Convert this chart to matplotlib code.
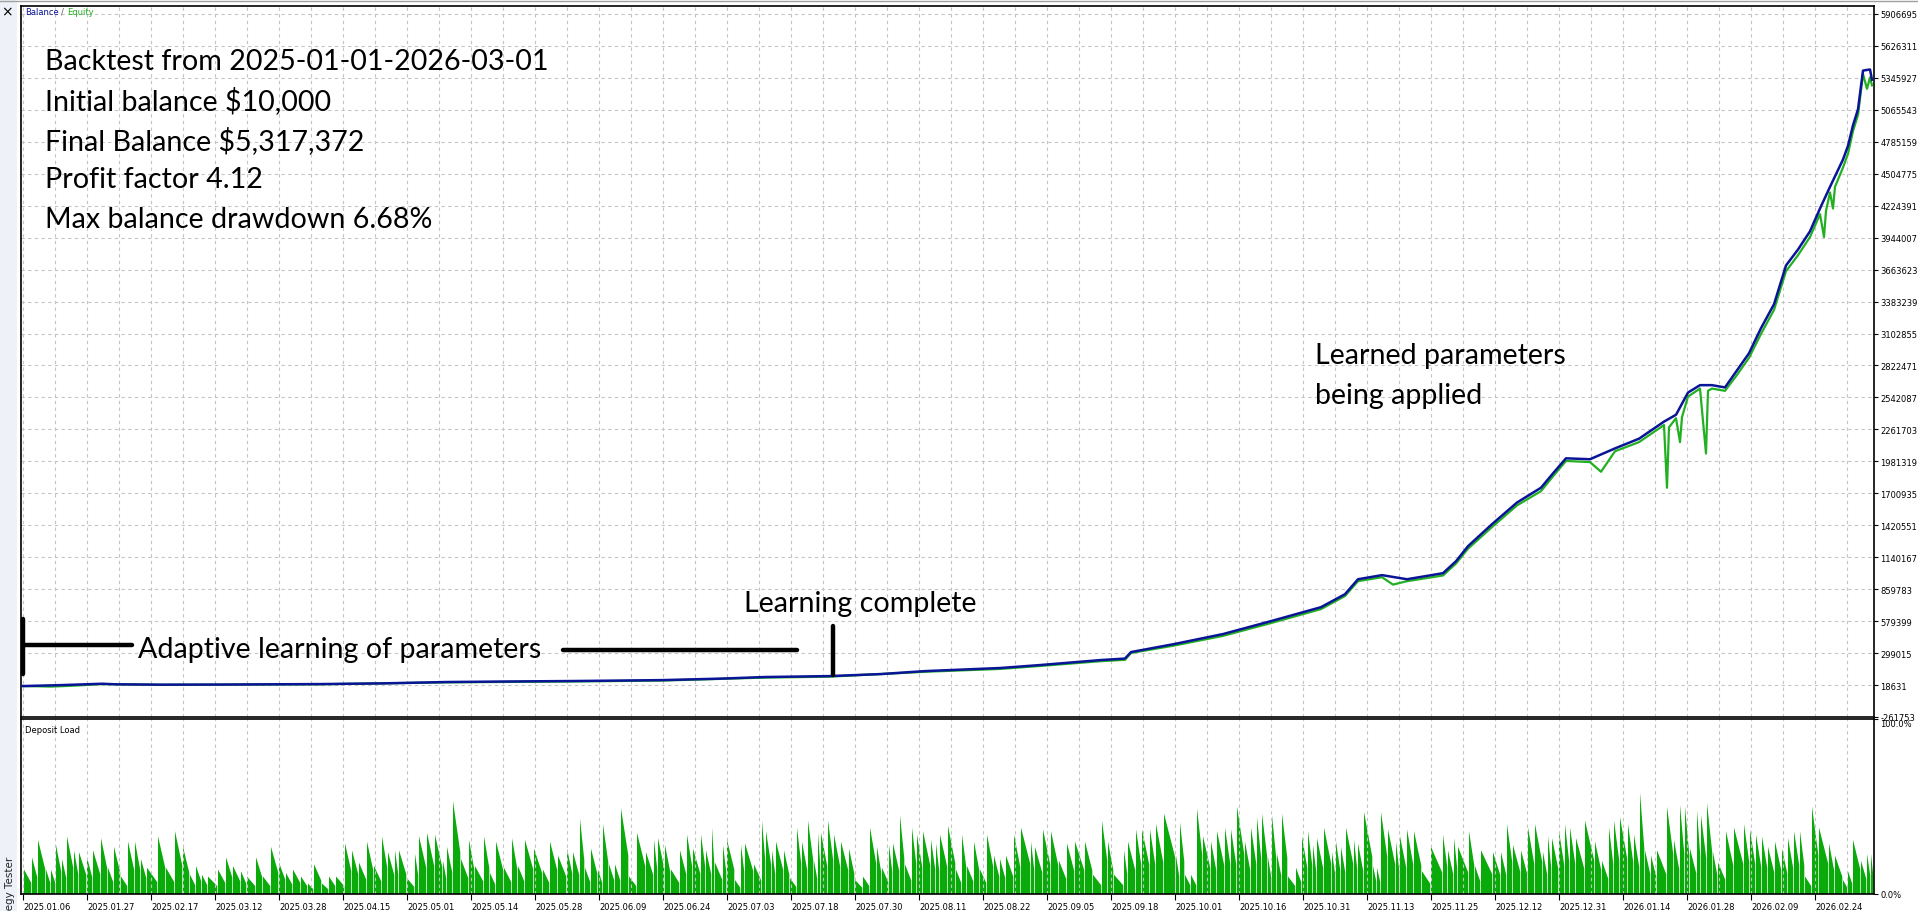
import matplotlib.pyplot as plt
from matplotlib.lines import Line2D
from matplotlib.patches import Rectangle

W, H = 1918, 912  # output size in pixels

# x positions are chart bars (0 .. 1853 across the plot, like the MT5 tester)
bal_x = [0, 4, 40, 81, 95, 140, 200, 298, 360, 425, 490, 553, 600, 642, 700, 744, 808, 860,
         904, 979, 1019, 1080, 1104, 1110, 1153, 1202, 1251, 1300, 1324, 1337, 1361, 1386,
         1422, 1435, 1447, 1471, 1496, 1520, 1532, 1545, 1569, 1594, 1618, 1643, 1655, 1667,
         1679, 1691, 1704, 1716, 1728, 1740, 1753, 1765, 1777, 1789, 1799, 1809, 1822, 1827,
         1832, 1837, 1842, 1849, 1851]
bal_v = [10000, 10000, 18000, 30000, 25000, 22000, 23000, 27000, 33000, 45000, 50000, 54000,
         58000, 62000, 75000, 89000, 97000, 115000, 141000, 168000, 194000, 238000, 251000,
         308000, 378000, 466000, 582000, 702000, 816000, 947000, 983000, 947000, 1000000,
         1105000, 1237000, 1430000, 1620000, 1750000, 1876000, 2008000, 2000000, 2095000,
         2180000, 2330000, 2390000, 2585000, 2650000, 2650000, 2630000, 2780000, 2930000,
         3150000, 3360000, 3700000, 3840000, 4000000, 4200000, 4390000, 4630000, 4750000,
         4930000, 5070000, 5410000, 5420000, 5330000]

eq_x = [0, 15, 30, 50, 81, 140, 298, 425, 553, 642, 744, 808, 904, 979, 1019, 1080, 1104,
        1110, 1153, 1202, 1251, 1300, 1324, 1337, 1361, 1372, 1386, 1422, 1435, 1447, 1471,
        1496, 1520, 1532, 1545, 1569, 1580, 1594, 1618, 1643, 1646, 1648, 1655, 1659, 1661,
        1667, 1679, 1685, 1687, 1691, 1704, 1716, 1728, 1740, 1753, 1765, 1777, 1789, 1799,
        1803, 1805, 1809, 1812, 1814, 1822, 1827, 1832, 1837, 1842, 1846, 1849, 1851]
eq_v = [10000, 8000, 5000, 12000, 27000, 20000, 25000, 42000, 50000, 58000, 84000, 92000,
        135000, 160000, 186000, 228000, 240000, 300000, 365000, 450000, 565000, 685000,
        800000, 930000, 965000, 900000, 930000, 980000, 1085000, 1215000, 1405000, 1595000,
        1720000, 1850000, 1985000, 1975000, 1890000, 2070000, 2150000, 2300000, 1750000,
        2280000, 2360000, 2150000, 2370000, 2550000, 2620000, 2050000, 2600000, 2620000,
        2600000, 2740000, 2890000, 3100000, 3310000, 3650000, 3790000, 3950000, 4150000,
        3950000, 4180000, 4340000, 4200000, 4390000, 4560000, 4680000, 4880000, 5020000,
        5380000, 5250000, 5350000, 5280000]

y_labels = ["-261753", "18631", "299015", "579399", "859783", "1140167", "1420551",
            "1700935", "1981319", "2261703", "2542087", "2822471", "3102855", "3383239",
            "3663623", "3944007", "4224391", "4504775", "4785159", "5065543", "5345927",
            "5626311", "5906695"]

date_labels = ["2025.01.06", "2025.01.27", "2025.02.17", "2025.03.12", "2025.03.28",
               "2025.04.15", "2025.05.01", "2025.05.14", "2025.05.28", "2025.06.09",
               "2025.06.24", "2025.07.03", "2025.07.18", "2025.07.30", "2025.08.11",
               "2025.08.22", "2025.09.05", "2025.09.18", "2025.10.01", "2025.10.16",
               "2025.10.31", "2025.11.13", "2025.11.25", "2025.12.12", "2025.12.31",
               "2026.01.14", "2026.01.28", "2026.02.09", "2026.02.24"]

# deposit load spikes: start bar and peak load in %
dl_x = [3, 11, 17, 25, 30, 35, 41, 46, 53, 58, 66, 72, 80, 87, 93, 100, 107, 114, 120, 126,
        137, 145, 154, 162, 169, 175, 181, 187, 197, 205, 212, 220, 226, 235, 242, 250, 258,
        265, 272, 280, 287, 293, 301, 308, 315, 324, 331, 338, 346, 353, 361, 367, 374, 378,
        386, 394, 398, 406, 414, 422, 426, 432, 440, 448, 454, 463, 469, 475, 483, 491, 497,
        504, 513, 522, 529, 537, 546, 552, 559, 564, 570, 577, 582, 588, 594, 600, 608, 616,
        625, 633, 637, 644, 650, 659, 666, 672, 680, 685, 691, 694, 702, 706, 714, 720, 724,
        733, 741, 745, 751, 755, 763, 769, 776, 781, 787, 793, 797, 800, 807, 813, 820, 828,
        834, 842, 849, 856, 861, 868, 872, 879, 884, 891, 896, 902, 910, 915, 919, 927, 935,
        941, 946, 953, 959, 966, 973, 979, 985, 993, 1000, 1010, 1014, 1022, 1030, 1038, 1046,
        1054, 1064, 1072, 1081, 1087, 1093, 1103, 1107, 1115, 1121, 1129, 1135, 1143, 1155,
        1159, 1164, 1170, 1176, 1182, 1190, 1196, 1204, 1210, 1216, 1224, 1230, 1236, 1241,
        1247, 1251, 1256, 1261, 1267, 1275, 1281, 1287, 1292, 1296, 1303, 1311, 1315, 1320,
        1325, 1333, 1337, 1343, 1352, 1356, 1360, 1367, 1375, 1379, 1386, 1393, 1401, 1410,
        1422, 1427, 1433, 1437, 1448, 1454, 1460, 1472, 1480, 1486, 1492, 1500, 1507, 1514,
        1522, 1527, 1531, 1538, 1544, 1549, 1555, 1564, 1574, 1581, 1588, 1593, 1599, 1607,
        1613, 1619, 1624, 1630, 1636, 1646, 1653, 1659, 1664, 1669, 1676, 1680, 1686, 1692,
        1697, 1705, 1713, 1723, 1729, 1735, 1741, 1747, 1754, 1761, 1767, 1773, 1779, 1784,
        1791, 1798, 1808, 1814, 1822, 1827, 1832, 1840, 1846, 1850]
dl_pct = [14, 21, 31, 14, 14, 28, 20, 33, 25, 24, 21, 25, 32, 15, 27, 10, 30, 30, 20, 15,
          33, 15, 36, 27, 11, 16, 11, 10, 14, 21, 16, 13, 10, 21, 10, 27, 18, 12, 14, 10, 6,
          17, 6, 10, 10, 29, 25, 18, 30, 16, 33, 24, 25, 25, 9, 23, 33, 35, 34, 19, 27, 53,
          20, 31, 16, 33, 12, 30, 15, 32, 16, 31, 26, 14, 30, 22, 26, 24, 43, 15, 26, 14, 40,
          17, 17, 49, 10, 35, 24, 31, 32, 28, 14, 25, 34, 26, 34, 25, 38, 18, 28, 31, 8, 28,
          29, 17, 42, 36, 25, 30, 25, 9, 38, 30, 42, 19, 35, 35, 42, 34, 30, 26, 8, 10, 38,
          27, 15, 28, 29, 45, 17, 38, 34, 36, 31, 29, 34, 39, 14, 34, 16, 30, 14, 34, 22, 20,
          22, 34, 38, 30, 27, 37, 36, 19, 29, 30, 30, 11, 42, 30, 11, 25, 30, 37, 37, 37, 40,
          46, 22, 41, 11, 11, 49, 33, 30, 36, 38, 37, 50, 30, 38, 44, 46, 21, 45, 23, 46, 10,
          15, 33, 36, 28, 32, 38, 24, 30, 27, 38, 31, 29, 47, 16, 15, 47, 37, 30, 33, 37, 36,
          13, 27, 34, 25, 32, 27, 36, 16, 25, 24, 24, 40, 28, 25, 38, 40, 24, 33, 32, 36, 40,
          38, 32, 42, 30, 19, 38, 42, 44, 40, 34, 58, 25, 22, 25, 50, 31, 51, 50, 26, 48, 45,
          52, 24, 18, 36, 38, 40, 37, 34, 33, 27, 30, 26, 32, 36, 36, 10, 50, 38, 29, 22, 8,
          13, 31, 19, 23, 23]

BLUE = "#0a1496"
GREEN = "#22b022"
LOAD = "#0aaa0a"
GRID = "#c4c4c4"
N_BARS = 1853
SMALL = 6.0


def px(x, y):
    # pixel position (from top-left) -> figure fraction
    return x / W, 1 - y / H


fig = plt.figure(figsize=(W / 100, H / 100), dpi=100)
fig.patch.set_facecolor("white")

# left tester strip and top border
fig.add_artist(Rectangle(px(0, H), 17 / W, 1, transform=fig.transFigure,
                         facecolor="#eef2f8", edgecolor="none"))
fig.add_artist(Line2D([0, 1], [1 - 2 / H] * 2, transform=fig.transFigure, color="#a0a0a0", lw=1))
fig.text(*px(7, 12), "×", fontsize=10, ha="center", va="center")
fig.text(*px(10, 857), "Strategy Tester", rotation=90, fontsize=7.5, ha="center", va="top",
         color="#222222")

ax = fig.add_axes([21 / W, (H - 718) / H, N_BARS / W, 711 / H])
ax2 = fig.add_axes([21 / W, (H - 895) / H, N_BARS / W, 175 / H])

major_x = list(range(2, N_BARS, 64))
minor_x = list(range(34, N_BARS, 64))
y_ticks = [int(s) for s in y_labels]

for a in (ax, ax2):
    a.set_xlim(0, N_BARS)
    a.set_xticks(major_x)
    a.set_xticks(minor_x, minor=True)
    a.grid(True, which="both", axis="x", color=GRID, ls=(0, (3, 3)), lw=0.8)
    a.yaxis.tick_right()
    for s in a.spines.values():
        s.set_linewidth(1.2)
    a.tick_params(axis="y", which="both", direction="out", length=3, width=0.8, pad=1.5,
                  labelsize=SMALL, labelright=True, labelleft=False)
    a.tick_params(axis="x", which="minor", length=0)

# --- balance / equity panel ---
ax.plot(eq_x, eq_v, color=GREEN, lw=1.6, zorder=3)
ax.plot(bal_x, bal_v, color=BLUE, lw=1.8, zorder=4)
ax.set_ylim(-261753, 5976800)
ax.set_yticks(y_ticks)
ax.set_yticklabels(y_labels)
ax.grid(True, axis="y", color=GRID, ls=(0, (3, 3)), lw=0.8)
ax.tick_params(axis="x", which="major", length=0, labelbottom=False)

ax.text(4, 5930000, "Balance", color=BLUE, fontsize=SMALL, va="center")
ax.text(40, 5930000, "/", color="#606060", fontsize=SMALL, va="center")
ax.text(46, 5930000, "Equity", color=GREEN, fontsize=SMALL, va="center")

# --- deposit load panel ---
xs, ys = [], []
ends = dl_x[1:] + [N_BARS]
for x0, p, x1 in zip(dl_x, dl_pct, ends):
    xs += [x0, x0, x1 - 0.7, x1 - 0.7]
    ys += [0, p, p * 0.45, 0]
ax2.fill(xs, ys, color=LOAD, lw=0)
ax2.set_ylim(0, 100)
ax2.set_yticks([0, 100])
ax2.set_yticklabels(["0.0%", "100.0%"])
ax2.get_yticklabels()[1].set_verticalalignment("top")
ax2.set_xticklabels(date_labels, fontsize=SMALL)
for lab in ax2.get_xticklabels():
    lab.set_horizontalalignment("left")
ax2.tick_params(axis="x", which="major", direction="out", length=4, width=0.8, pad=1.5)
ax2.text(4, 94, "Deposit Load", fontsize=SMALL, va="center")

# --- hand-drawn annotations ---
info = ["Backtest from 2025-01-01-2026-03-01", "Initial balance $10,000",
        "Final Balance $5,317,372", "Profit factor 4.12", "Max balance drawdown 6.68%"]
FONT = dict(family="Lato", fontsize=20.6, va="center")
for i, line in enumerate(info):
    fig.text(*px(45, 62 + 39.5 * i), line, **FONT)

fig.text(*px(1315, 356), "Learned parameters", **FONT)
fig.text(*px(1315, 396), "being applied", **FONT)
fig.text(*px(744, 604), "Learning complete", **FONT)
fig.text(*px(138, 650), "Adaptive learning of parameters", **FONT)

for (x1, y1), (x2, y2) in [((23, 620), (23, 675)), ((23, 646), (132, 646)),
                           ((563, 651), (797, 651)), ((833, 627), (833, 676))]:
    fig.add_artist(Line2D([x1 / W, x2 / W], [1 - y1 / H, 1 - y2 / H],
                          transform=fig.transFigure, color="black", lw=3.2,
                          solid_capstyle="round"))

fig.savefig("out.png", dpi=100)
